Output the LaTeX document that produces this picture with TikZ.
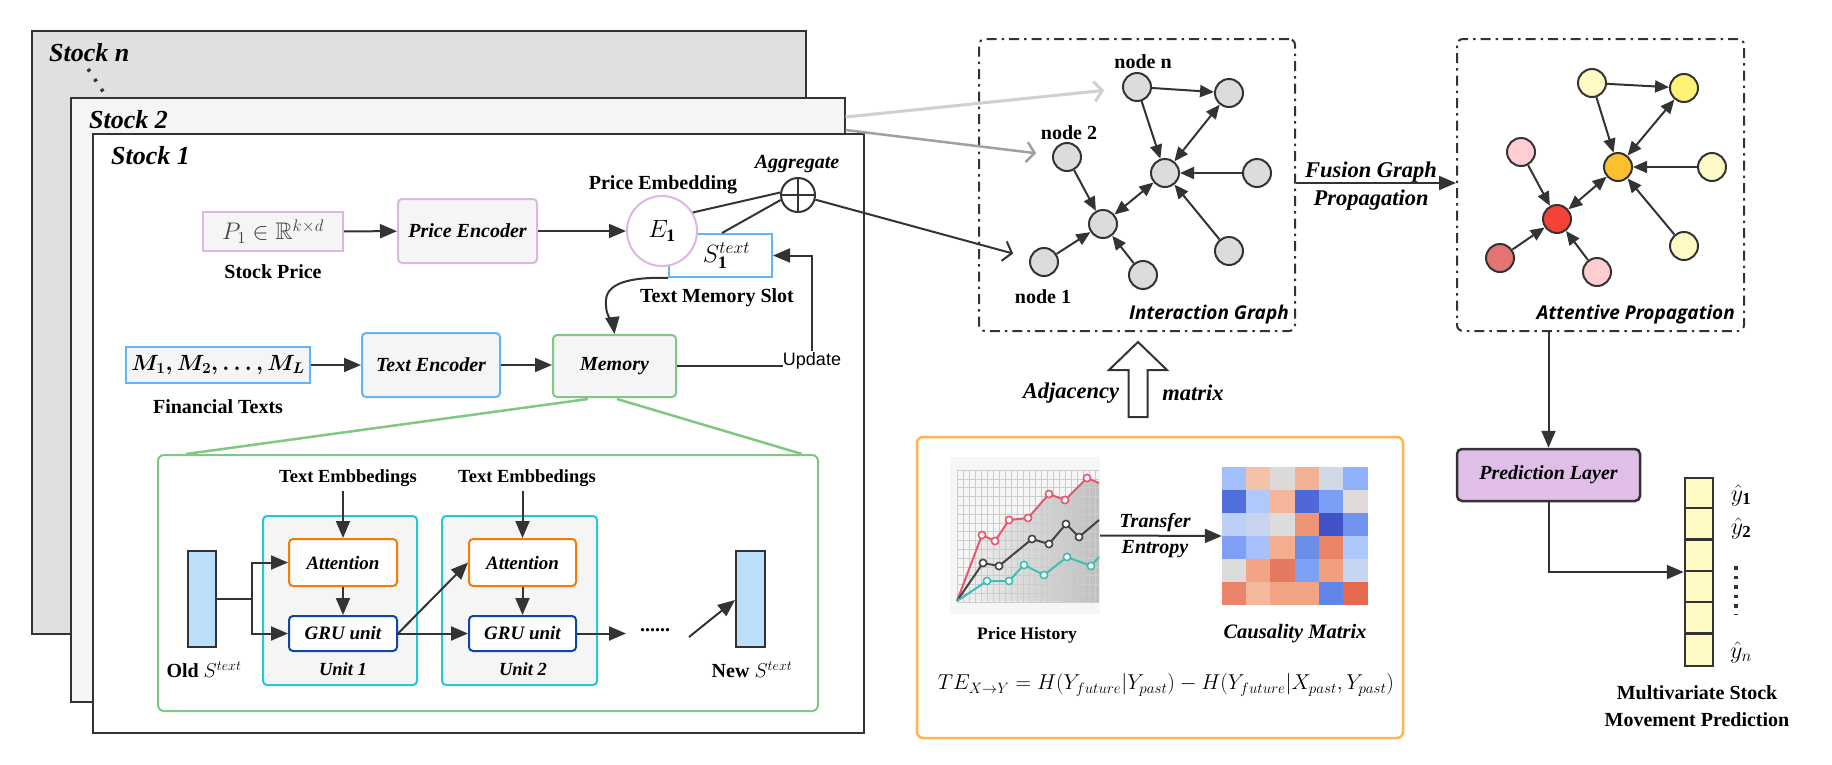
\RequirePackage{fix-cm}
\documentclass[tikz,border=0pt]{standalone}
\usepackage{amsmath,amssymb}
\usepackage{fontspec}
\setmainfont{Liberation Serif}
\newfontfamily\osans{Open Sans}
\newfontfamily\lsans{Liberation Sans}
\usetikzlibrary{arrows.meta,calc}
\newcommand\fz[1]{\fontsize{#1}{#1}\selectfont}
\definecolor{dark}{HTML}{333333}
\definecolor{stockn}{HTML}{E0E0E0}
\definecolor{stocktwo}{HTML}{F5F5F5}
\definecolor{boxfill}{HTML}{F5F5F5}
\definecolor{pinkb}{HTML}{DDB6E3}
\definecolor{blueb}{HTML}{64B5F6}
\definecolor{greenb}{HTML}{81C784}
\definecolor{cyanb}{HTML}{26C6DA}
\definecolor{orangeb}{HTML}{F57C00}
\definecolor{grub}{HTML}{0D47A1}
\definecolor{lblue}{HTML}{BBDEFB}
\definecolor{obox}{HTML}{FFB74D}
\definecolor{predfill}{HTML}{E1BEE7}
\definecolor{yel}{HTML}{FFF9C4}
\definecolor{yelb}{HTML}{FFF176}
\definecolor{hubo}{HTML}{FBC02D}
\definecolor{pinkn}{HTML}{FFCDD2}
\definecolor{redn}{HTML}{F44336}
\definecolor{dpink}{HTML}{E57373}
\definecolor{ngray}{HTML}{DCDCDC}
\definecolor{redl}{HTML}{E8566B}
\definecolor{teall}{HTML}{3CBFB0}
\definecolor{blackl}{HTML}{444444}
\definecolor{lgrayarr}{HTML}{D0D0D0}
\definecolor{mgrayarr}{HTML}{A0A0A0}
\begin{document}
\begin{tikzpicture}[x=1pt,y=-1pt,
  stockbox/.style={rectangle,draw=dark,line width=2.5pt,inner sep=0pt},
  bx/.style={rectangle,line width=2pt,inner sep=0pt},
  lbl/.style={font=\fz{20}\bfseries,inner sep=0pt},
  lbli/.style={font=\fz{20}\bfseries\itshape,inner sep=0pt},
  arr/.style={-{Triangle[length=17pt,width=14pt]},line width=2pt,draw=dark},
  garr/.style={-{Triangle[length=14pt,width=12pt]},line width=2pt,draw=dark},
  gdarr/.style={{Triangle[length=14pt,width=12pt]}-{Triangle[length=14pt,width=12pt]},line width=2pt,draw=dark},
  plain/.style={line width=2pt,draw=dark},
  gnode/.style={circle,draw=dark,line width=2pt,minimum size=28pt,inner sep=0pt},
  dashdot/.style={draw=dark,line width=2pt,rounded corners=6pt,dash pattern=on 10pt off 5pt on 2.5pt off 5pt,inner sep=0pt,rectangle}
]
\useasboundingbox (0,0) rectangle (1832,764);

% ---------------- stock stack ----------------
\node[stockbox,fill=stockn,minimum width=774pt,minimum height=603pt] (stockN) at (419,332.5) {};
\node[font=\fz{26}\bfseries\itshape,anchor=west,inner sep=0pt] (labN) at (49,53) {Stock n};
\coordinate (dotA) at (88,69);
\coordinate (dotB) at (104,93);
\draw[dark,line width=3.5pt,dash pattern=on 3pt off 9pt] (dotA) -- (dotB);
\node[stockbox,fill=stocktwo,minimum width=774pt,minimum height=604pt] (stock2) at (458,400) {};
\node[font=\fz{26}\bfseries\itshape,anchor=west,inner sep=0pt] (lab2) at (89,120) {Stock 2};
\node[stockbox,fill=white,minimum width=771pt,minimum height=599pt] (stock1) at (478.5,433.5) {};
\node[font=\fz{26}\bfseries\itshape,anchor=west,inner sep=0pt] (lab1) at (111,156) {Stock 1};

% price branch
\node[bx,draw=pinkb,fill=boxfill,minimum width=140pt,minimum height=39pt,font=\fz{24},text=blackl] (pbox) at (273,231.5) {$P_1\in\mathbb{R}^{k\times d}$};
\node[lbl] (lsp) at (273,272) {Stock Price};
\node[bx,draw=pinkb,fill=boxfill,rounded corners=4pt,minimum width=139pt,minimum height=64pt,font=\fz{20}\bfseries\itshape] (penc) at (467.5,231) {Price Encoder};
\node[bx,draw=blueb,fill=white,minimum width=103pt,minimum height=43pt,font=\fz{25}] (sbox) at (720.5,255.5) {\hspace*{12pt}$S_{\mathbf 1}^{text}$};
\node[circle,draw=pinkb,line width=2pt,fill=white,minimum size=70pt,inner sep=0pt,font=\fz{25}] (E1) at (662,231) {$E_{\mathbf 1}$};
\node[lbl] (lpe) at (663,185) {Price Embedding};
\node[circle,draw=dark,line width=2pt,fill=white,minimum size=34pt,inner sep=0pt] (agg) at (798,195) {};
\draw[plain] (agg.north) -- (agg.south);
\draw[plain] (agg.west) -- (agg.east);
\node[lbli] (lagg) at (797,164) {Aggregate};
\draw[plain] (E1.31) -- (agg.172);
\draw[plain] ($(sbox.north)+(1.5,0)$) -- (agg.196);
\draw[arr] (pbox) -- (penc);
\draw[arr] (penc) -- (E1);
\node[lbl] (ltms) at (717,298) {Text Memory Slot};

% text branch
\node[bx,draw=blueb,fill=boxfill,minimum width=184pt,minimum height=36pt,font=\fz{22}] (mbox) at (218,365) {$\boldsymbol{M_1, M_2, \ldots, M_L}$};
\node[lbl] (lft) at (218,407) {Financial Texts};
\node[bx,draw=blueb,fill=boxfill,rounded corners=4pt,minimum width=138pt,minimum height=64pt,font=\fz{20}\bfseries\itshape] (tenc) at (431,365) {Text Encoder};
\node[bx,draw=greenb,fill=boxfill,rounded corners=4pt,minimum width=123pt,minimum height=62pt,font=\fz{20}\bfseries\itshape] (mem) at (614.5,366) {Memory};
\draw[arr] (mbox) -- (tenc);
\draw[arr] (tenc.east) -- (tenc.east -| mem.west);
\draw[arr] (sbox.south west) .. controls (640,277) and (607,280) .. (606,300) .. controls (605,318) and (613,322) .. (mem.north);
\node[font=\fz{18}\lsans,inner sep=0pt] (upd) at (812,361) {Update};
\draw[plain] (mem.east) -- (mem.east -| upd.west);
\draw[arr] ($(upd.north)+(0,-1)$) |- (sbox.east);

% memory detail
\node[bx,draw=greenb,fill=white,rounded corners=6pt,minimum width=660pt,minimum height=256pt] (gbox) at (488,583) {};
\draw[greenb,line width=2.5pt] ($(mem.south)+(-26.5,1)$) -- ($(gbox.north west)+(29,0)$);
\draw[greenb,line width=2.5pt] ($(mem.south)+(2.5,1)$) -- ($(gbox.north east)+(-17,0)$);
\node[bx,draw=cyanb,fill=boxfill,rounded corners=4pt,minimum width=154pt,minimum height=169pt] (u1) at (340,600.5) {};
\node[bx,draw=cyanb,fill=boxfill,rounded corners=4pt,minimum width=155pt,minimum height=169pt] (u2) at (519.5,600.5) {};
\node[bx,draw=orangeb,fill=white,rounded corners=4pt,minimum width=108pt,minimum height=47pt,font=\fz{19}\bfseries\itshape] (att1) at (343,562.5) {Attention};
\node[bx,draw=grub,fill=white,rounded corners=4pt,minimum width=108pt,minimum height=35pt,font=\fz{19}\bfseries\itshape] (gru1) at (343,633.5) {GRU unit};
\node[bx,draw=orangeb,fill=white,rounded corners=4pt,minimum width=107pt,minimum height=47pt,font=\fz{19}\bfseries\itshape] (att2) at (522.5,562.5) {Attention};
\node[bx,draw=grub,fill=white,rounded corners=4pt,minimum width=107pt,minimum height=35pt,font=\fz{19}\bfseries\itshape] (gru2) at (522.5,633.5) {GRU unit};
\node[font=\fz{18.5}\bfseries,inner sep=0pt] (te1) at (348,478) {Text Embbedings};
\node[font=\fz{18.5}\bfseries,inner sep=0pt] (te2) at (527,478) {Text Embbedings};
\draw[arr,shorten <=4pt] (att1.north |- te1.south) -- (att1.north);
\draw[arr,shorten <=4pt] (att2.north |- te2.south) -- (att2.north);
\draw[arr] (att1) -- (gru1);
\draw[arr] (att2) -- (gru2);
\node[font=\fz{18.5}\bfseries\itshape,inner sep=0pt] (lu1) at (343,669) {Unit 1};
\node[font=\fz{18.5}\bfseries\itshape,inner sep=0pt] (lu2) at (523,669) {Unit 2};
\node[bx,draw=dark,fill=lblue,minimum width=28pt,minimum height=96pt] (olds) at (202,599) {};
\node[bx,draw=dark,fill=lblue,minimum width=29pt,minimum height=96pt] (news) at (750.5,599) {};
\node[font=\fz{20},inner sep=0pt] (lold) at (204,670) {\bfseries Old $S^{text}$};
\node[font=\fz{20},inner sep=0pt] (lnew) at (752,670) {\bfseries New $S^{text}$};
\coordinate (br) at (252,599);
\draw[plain] (olds.east) -- (br);
\draw[arr] (br) |- (att1.west);
\draw[arr] (br) |- (gru1.west);
\draw[arr] (gru1.east) -- (att2.west);
\draw[arr] (gru1.east) -- (gru2.west);
\coordinate (gend) at (626,633.5);
\draw[arr] (gru2.east) -- (gend);
\node[font=\fz{20}\bfseries,inner sep=0pt] (dots) at (655,630) {......};
\coordinate (nsst) at (689,637);
\draw[arr] (nsst) -- ($(news.west)+(0,1)$);

% ---------------- interaction graph ----------------
\node[dashdot,minimum width=316pt,minimum height=292pt] (ibox) at (1137,185) {};
\node[dashdot,minimum width=287pt,minimum height=292pt] (abox) at (1600.5,185) {};

\node[gnode,fill=ngray] (nN) at (1137,87) {};
\node[gnode,fill=ngray] (nA) at (1229,93) {};
\node[gnode,fill=ngray] (n2) at (1067,157) {};
\node[gnode,fill=ngray] (nC) at (1165,173) {};
\node[gnode,fill=ngray] (nR) at (1257,173) {};
\node[gnode,fill=ngray] (nH) at (1103,224) {};
\node[gnode,fill=ngray] (nBR) at (1229,251) {};
\node[gnode,fill=ngray] (n1) at (1044,262) {};
\node[gnode,fill=ngray] (nB) at (1143,275) {};
\node[lbl] (lnn) at (1143,62) {node n};
\node[lbl] (ln2) at (1069,133) {node 2};
\node[lbl] (ln1) at (1043,297) {node 1};
\draw[garr] (nN) -- (nA);
\draw[garr] (nN) -- (nC);
\draw[gdarr] (nA) -- (nC);
\draw[garr] (nR) -- (nC);
\draw[garr] (nBR) -- (nC);
\draw[garr] (n2) -- (nH);
\draw[gdarr] (nH) -- (nC);
\draw[garr] (n1) -- (nH);
\draw[garr] (nB) -- (nH);
\node[font=\fz{19}\osans\bfseries\itshape,inner sep=0pt,anchor=east] (lig) at (1289,315) {Interaction Graph};

% arrows from stocks into graph
\coordinate (ga) at (845.5,117);
\coordinate (gb) at (845.5,130);
\draw[lgrayarr,line width=3pt,-{Straight Barb[length=8pt,width=20pt]},shorten >=18pt] (ga) -- (nN);
\draw[mgrayarr,line width=2.5pt,-{Straight Barb[length=8pt,width=20pt]},shorten >=16pt] (gb) -- (n2);
\draw[dark,line width=2pt,-{Straight Barb[length=8pt,width=20pt]},shorten >=17pt] (agg.-15) -- (n1);

% attentive graph
\node[gnode,fill=yel] (aTL) at (1592,83) {};
\node[gnode,fill=yelb] (aTR) at (1684,88) {};
\node[gnode,fill=pinkn] (aPL) at (1521,152) {};
\node[gnode,fill=hubo] (aHub) at (1618,167) {};
\node[gnode,fill=yel] (aR) at (1712,167) {};
\node[gnode,fill=redn] (aRed) at (1557,219) {};
\node[gnode,fill=yel] (aBR) at (1684,246) {};
\node[gnode,fill=dpink] (aDP) at (1500,258) {};
\node[gnode,fill=pinkn] (aPB) at (1597,272) {};
\draw[garr] (aTL) -- (aTR);
\draw[garr] (aTL) -- (aHub);
\draw[gdarr] (aTR) -- (aHub);
\draw[garr] (aR) -- (aHub);
\draw[garr] (aBR) -- (aHub);
\draw[garr] (aPL) -- (aRed);
\draw[gdarr] (aRed) -- (aHub);
\draw[garr] (aDP) -- (aRed);
\draw[garr] (aPB) -- (aRed);
\node[font=\fz{19}\osans\bfseries\itshape,inner sep=0pt,anchor=east] (lap) at (1735,315) {Attentive Propagation};

\draw[arr] ($(ibox.east)+(0,-2)$) -- ($(abox.west)+(0,-2)$);
\node[font=\fz{22.5}\bfseries\itshape,inner sep=0pt] (lfg) at (1371,172) {Fusion Graph};
\node[font=\fz{22.5}\bfseries\itshape,inner sep=0pt] (lfp) at (1371,200) {Propagation};

% adjacency hollow arrow
\draw[dark,line width=2pt,fill=white] (1128.5,417) -- (1128.5,370) -- (1109,370) -- (1138,342) -- (1167,370) -- (1147.5,370) -- (1147.5,417) -- cycle;
\node[font=\fz{22.5}\bfseries\itshape,inner sep=0pt] (ladj) at (1071,393) {Adjacency};
\node[font=\fz{22.5}\bfseries\itshape,inner sep=0pt] (lmat) at (1193,393) {matrix};

% ---------------- transfer entropy box ----------------
\node[bx,draw=obox,line width=2.5pt,fill=white,rounded corners=6pt,minimum width=486pt,minimum height=301pt] (obx) at (1160,587.5) {};
% chart
\node[inner sep=0pt,minimum width=150pt,minimum height=157pt] (chart) at (1025,535.5) {};
\fill[gray!7] (chart.north west) rectangle (chart.south east);
\shade[left color=gray!10,right color=gray!50] (957,601) -- (982,535) -- (995,541) -- (1009,520) -- (1028,518) -- (1049,494) -- (1065,500) -- (1087,478) -- (1099,483) -- (1099,602) -- cycle;
\foreach \xx in {957,963,...,1099} \draw[gray!40,line width=0.6pt] (\xx,470) -- (\xx,602);
\foreach \yy in {470,478.8,...,603} \draw[gray!40,line width=0.6pt] (957,\yy) -- (1099,\yy);
\draw[redl,line width=2pt] (957,601) -- (982,535) -- (995,541) -- (1009,520) -- (1028,518) -- (1049,494) -- (1065,500) -- (1087,478) -- (1099,483);
\draw[blackl,line width=2pt] (957,601) -- (983,563) -- (999,566) -- (1032,539) -- (1049,544) -- (1066,524) -- (1079,537) -- (1099,520);
\draw[teall,line width=2pt] (957,601) -- (987,581) -- (1009,581) -- (1024,565) -- (1044,575) -- (1067,557) -- (1091,566) -- (1099,557);
\foreach \p in {(982,535),(995,541),(1009,520),(1028,518),(1049,494),(1065,500),(1087,478)} \draw[redl,line width=1.6pt,fill=white] \p circle[radius=3.6pt];
\foreach \p in {(983,563),(999,566),(1032,539),(1049,544),(1066,524),(1079,537)} \draw[blackl,line width=1.6pt,fill=white] \p circle[radius=3.6pt];
\foreach \p in {(987,581),(1009,581),(1024,565),(1044,575),(1067,557),(1091,566)} \draw[teall,line width=1.6pt,fill=white] \p circle[radius=3.6pt];
\node[font=\fz{17.5}\bfseries,inner sep=0pt] (lph) at (1027,635) {Price History};
% causality matrix
\node[inner sep=0pt,minimum width=146pt,minimum height=138pt] (cmat) at (1295,536) {};
\foreach \c [count=\i from 0] in {A3BFFA,F4C2AA,DCDAD8,F4B295,D0DAE6,8FB0FB,
  4F6FDD,B0C9FB,F5B59A,4F68D8,7AA0F5,E0DBD8,
  BCD0F5,C8D4EE,DCDCDC,EF9474,3F52C8,6F93EF,
  7D9FF5,A5C0FB,F5AD90,6A8EE6,EA8468,ADC8FB,
  DCDCDC,F3A486,E57860,7EA1F8,F29F80,C6D5F2,
  EA8468,F4B89C,F3A486,F3A486,5F85EA,E5694E} {
  \pgfmathtruncatemacro\row{\i/6}
  \pgfmathtruncatemacro\col{mod(\i,6)}
  \definecolor{cellc}{HTML}{\c}
  \fill[cellc] ($(cmat.north west)+(\col*24.333,\row*23)$) rectangle ++(24.4,23.1);
}
\node[font=\fz{20.5}\bfseries\itshape,inner sep=0pt] (lcm) at (1295,634) {Causality Matrix};
\draw[arr] (chart.east) -- (cmat.west);
\node[font=\fz{20}\bfseries\itshape,inner sep=0pt] (ltr) at (1155,523) {Transfer};
\node[font=\fz{20}\bfseries\itshape,inner sep=0pt] (len) at (1155,549) {Entropy};
\node[font=\fz{21.5},inner sep=0pt] (form) at (1166,685) {$TE_{X\rightarrow Y}=H(Y_{future}|Y_{past})-H(Y_{future}|X_{past},Y_{past})$};

% ---------------- prediction ----------------
\node[bx,draw=dark,line width=2.5pt,fill=predfill,rounded corners=5pt,minimum width=183pt,minimum height=52pt,font=\fz{20}\bfseries\itshape] (pred) at (1548.5,475) {Prediction Layer};
\draw[arr] (pred.north |- abox.south) -- (pred.north);
\node[bx,draw=dark,line width=2.5pt,fill=yel,minimum width=28pt,minimum height=188pt] (vec) at (1699,572) {};
\foreach \k in {1,...,5} \draw[dark,line width=2.5pt] ($(vec.north west)+(0,\k*31.333)$) -- ($(vec.north east)+(0,\k*31.333)$);
\draw[arr] (pred.south) |- (vec.west);
\node[font=\fz{24},inner sep=0pt] (y1) at (1741,495) {$\hat{y}_{\mathbf 1}$};
\node[font=\fz{24},inner sep=0pt] (y2) at (1741,528) {$\hat{y}_{\mathbf 2}$};
\node[font=\fz{24},inner sep=0pt] (yn) at (1741,652) {$\hat{y}_{n}$};
\coordinate (vd1) at (1736,566);
\coordinate (vd2) at (1736,614);
\draw[dark,line width=3.5pt,dash pattern=on 3.5pt off 6pt] (vd1) -- (vd2);
\node[lbl] (lmv1) at (1697,693) {Multivariate Stock};
\node[lbl] (lmv2) at (1697,720) {Movement Prediction};
\end{tikzpicture}
\end{document}
